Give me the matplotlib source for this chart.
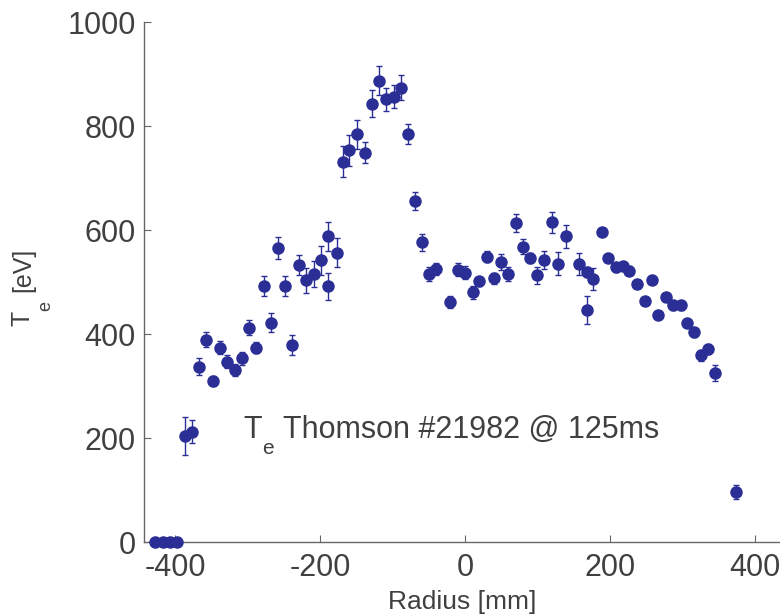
import matplotlib
matplotlib.use("Agg")
import matplotlib.pyplot as plt
from matplotlib.transforms import offset_copy

plt.rcParams['font.family'] = ['Liberation Sans', 'DejaVu Sans']
plt.rcParams['axes.unicode_minus'] = False

# Thomson scattering Te profile, shot 21982 @ 125 ms
radius = [-428, -417, -407, -397, -387, -377, -367, -357, -348, -338,
          -328, -318, -308, -298, -288, -278, -268, -258, -249, -239,
          -229, -219, -209, -199, -189, -189, -177, -168, -160, -149,
          -138, -128, -119, -109, -98, -88, -79, -69, -59, -50,
          -40, -20, -9, 0, 11, 20, 30, 40, 50, 60,
          70, 80, 90, 100, 109, 120, 129, 139, 158, 168,
          168, 177, 189, 198, 208, 218, 227, 238, 248, 258,
          266, 277, 287, 298, 307, 316, 326, 336, 345, 374]
te = [0, 0, 0, 0, 204, 212, 337, 389, 310, 374,
      347, 331, 353, 412, 374, 492, 422, 566, 492, 379,
      533, 503, 515, 542, 588, 492, 556, 731, 753, 784,
      749, 843, 887, 851, 856, 874, 785, 656, 576, 515,
      525, 462, 524, 518, 480, 501, 549, 507, 538, 515,
      613, 568, 546, 513, 542, 615, 535, 588, 535, 519,
      447, 505, 596, 546, 528, 531, 522, 496, 463, 504,
      437, 471, 455, 455, 421, 403, 359, 371, 325, 96]
te_err = [0, 0, 0, 0, 37, 22, 16, 14, 10, 12,
          13, 12, 12, 14, 10, 19, 19, 21, 19, 19,
          19, 24, 25, 28, 28, 26, 28, 30, 30, 28,
          21, 26, 28, 23, 22, 24, 19, 17, 17, 14,
          11, 12, 13, 12, 13, 9, 11, 10, 15, 14,
          17, 15, 10, 16, 17, 20, 22, 22, 21, 10,
          27, 21, 8, 8, 8, 8, 8, 8, 8, 8,
          8, 8, 8, 8, 8, 8, 10, 10, 15, 13]

blue = '#2b2f95'
gray = '#404040'

W, H = 780, 616
fig = plt.figure(figsize=(W / 100, H / 100), dpi=100)
ax = fig.add_axes([144 / W, 1 - 542 / H, 1 - 144 / W, 520 / H])

ax.errorbar(radius, te, yerr=te_err, fmt='o', color=blue, ms=8,
            elinewidth=1.0, capsize=2.5, capthick=1.0, clip_on=False, zorder=3)

ax.set_xlim(-443, 435)
ax.set_ylim(0, 1000)
ax.set_xticks([-400, -200, 0, 200, 400])
ax.set_yticks([0, 200, 400, 600, 800, 1000])
ax.tick_params(direction='in', length=5, width=0.8, colors='#666666',
               labelcolor=gray, labelsize=22)
ax.tick_params(axis='x', pad=8)
ax.tick_params(axis='y', pad=6)

for s in ['top', 'right']:
    ax.spines[s].set_visible(False)
for s in ['left', 'bottom']:
    ax.spines[s].set_color('#666666')
    ax.spines[s].set_linewidth(1.0)

ax.set_xlabel('Radius [mm]', fontsize=19, color=gray, labelpad=5)

# y label: T with a dropped subscript e, then [eV]
def px(x, y):
    return x / W, 1 - y / H

ylab = dict(rotation=90, rotation_mode='anchor', ha='left', va='baseline',
            color=gray, transform=fig.transFigure)
fig.text(*px(30, 326), 'T', fontsize=18, **ylab)
fig.text(*px(50, 311), 'e', fontsize=13, **ylab)
fig.text(*px(30, 292), '[eV]', fontsize=18, **ylab)

# annotation in the plot
x0, y0 = -306, 200
ax.text(x0, y0, 'T', fontsize=22, color=gray, va='baseline', ha='left')
ax.text(x0, y0, 'e', fontsize=15, color=gray, va='baseline', ha='left',
        transform=offset_copy(ax.transData, fig=fig, x=19, y=-16, units='dots'))
ax.text(x0, y0, 'Thomson #21982 @ 125ms', fontsize=22, color=gray,
        va='baseline', ha='left',
        transform=offset_copy(ax.transData, fig=fig, x=40, y=0, units='dots'))

fig.savefig('out.png', dpi=100)
